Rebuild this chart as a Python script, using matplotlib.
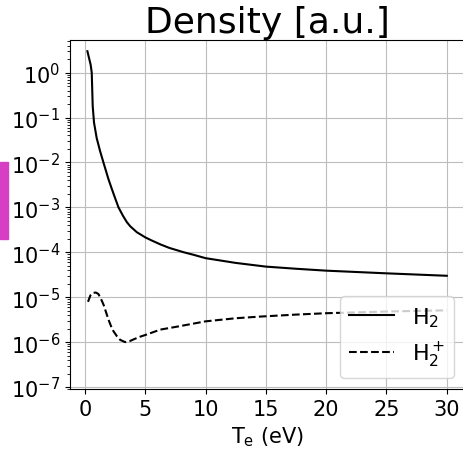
import matplotlib
matplotlib.use('Agg')
import matplotlib.pyplot as plt
from matplotlib.patches import Rectangle

# electron temperature (eV) and densities
te_h2 = [0.2, 0.47, 0.56, 0.64, 0.75, 0.97, 1.25, 1.53, 1.94, 2.22, 2.5, 2.78, 3.15, 3.47, 3.75,
         4.3, 5.0, 5.5, 6.25, 7.0, 8.2, 9.0, 10.0, 12.5, 15.0, 17.5, 20.0, 25.0, 30.0]
n_h2 = [3.0, 1.5, 1.0, 0.18, 0.077, 0.035, 0.018, 0.01, 4.3e-3, 2.6e-3, 1.6e-3, 1.0e-3, 6.5e-4, 4.7e-4, 3.8e-4,
        2.8e-4, 2.15e-4, 1.85e-4, 1.5e-4, 1.25e-4, 1.0e-4, 8.8e-5, 7.4e-5, 5.8e-5, 4.8e-5, 4.3e-5, 3.9e-5, 3.4e-5, 3.0e-5]

te_h2p = [0.25, 0.45, 0.69, 0.9, 1.11, 1.3, 1.53, 1.75, 1.94, 2.15, 2.36, 2.65, 2.92, 3.33,
          3.7, 4.03, 4.5, 5.0, 6.25, 7.6, 10.0, 12.5, 14.5, 17.5, 20.0, 25.0, 30.0]
n_h2p = [7.9e-6, 1.1e-5, 1.25e-5, 1.27e-5, 1.18e-5, 9.5e-6, 6.9e-6, 4.6e-6, 3.2e-6, 2.3e-6, 1.75e-6, 1.35e-6, 1.12e-6, 1.0e-6,
         1.05e-6, 1.15e-6, 1.3e-6, 1.44e-6, 1.9e-6, 2.2e-6, 2.9e-6, 3.4e-6, 3.7e-6, 4.1e-6, 4.4e-6, 4.8e-6, 5.1e-6]

labels = ['H$_2$', 'H$_2^+$']

fig = plt.figure(figsize=(4.63, 4.52), dpi=100)
ax = fig.add_axes([0.151, 0.137, 0.853, 0.772])

ax.plot(te_h2, n_h2, '-', color='k', lw=1.5, label=labels[0])
ax.plot(te_h2p, n_h2p, '--', color='k', lw=1.5, label=labels[1])

ax.set_yscale('log')
ax.set_xlim(-1.25, 31.5)
ax.set_ylim(9e-8, 5.3)
ax.set_yticks([1e-7, 1e-6, 1e-5, 1e-4, 1e-3, 1e-2, 1e-1, 1e0])
ax.set_xticks([0, 5, 10, 15, 20, 25, 30])
ax.tick_params(labelsize=15)
ax.grid(True, which='major', color='#bdbdbd', lw=0.8)

ax.set_xlabel('T$_\\mathrm{e}$ (eV)', fontsize=15)
ax.set_title('Density [a.u.]', fontsize=26)
ax.legend(loc='lower right', fontsize=16)

# stray colour bar piece at the left edge
fig.patches.append(Rectangle((0, 1 - 240 / 452), 8 / 463, 77 / 452,
                             transform=fig.transFigure, color='#d63fc3', zorder=0))

fig.savefig('out.png', dpi=100)
